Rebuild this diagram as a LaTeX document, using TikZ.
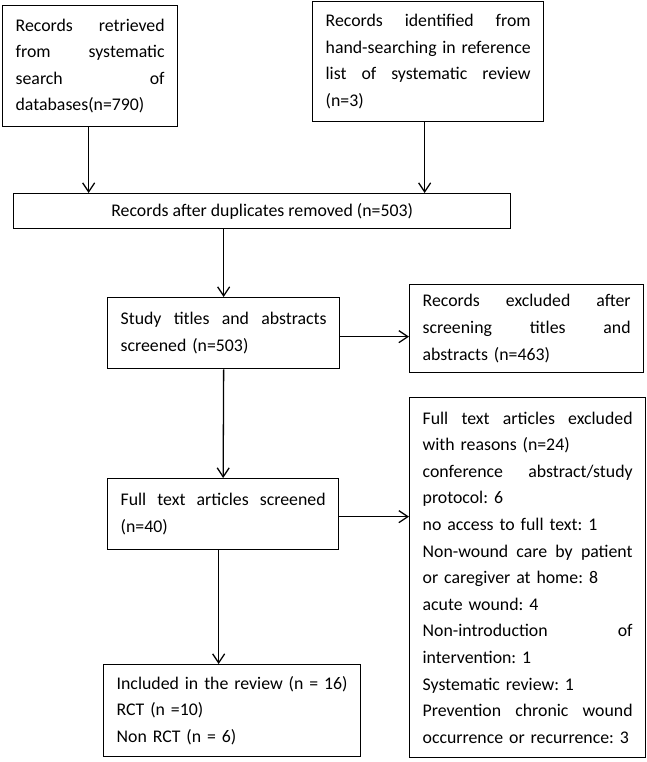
\documentclass[tikz,border=0pt]{standalone}
\usepackage{fontspec}
\setmainfont{Carlito}
\usetikzlibrary{arrows.meta}
\newcommand{\boxfont}   {\fontsize{17.8pt}{26.6pt}\selectfont\frenchspacing}

\begin{document}
\begin{tikzpicture}[x=1pt,y=-1pt,line width=1.3pt,
    box/.style={draw,anchor=north west,inner xsep=13pt,inner ysep=0pt,
                align=left,font=\boxfont},
    >={Straight Barb[length=9pt,width=12pt]}]
     \useasboundingbox (0,0) rectangle (647,762);
     \node[box,text width=149pt,minimum height=121pt] (search) at (2,5)
       {Records\hfill retrieved\\ from\hfill systematic\\ search\hfill of\\ databases(n=790)};
     \node[box,text width=205pt,minimum height=120pt] (handsearch) at (312,1)
       {Records\hfill identified\hfill from\\ hand-searching\hfill in\hfill reference\\
        list\hfill of\hfill systematic\hfill review\\ (n=3)};
     \node[box,align=center,minimum width=497pt,minimum height=35pt] (dedup) at (13,193)
       {Records after duplicates removed (n=503)};
     \node[box,text width=206pt,minimum height=71pt] (screen) at (107,297)
       {Study\hfill titles\hfill and\hfill abstracts\\ screened (n=503)};
     \node[box,text width=208pt,minimum height=88pt] (excl) at (409,284)
       {Records\hfill excluded\hfill after\\ screening\hfill titles\hfill and\\ abstracts (n=463)};
     \node[box,text width=205pt,minimum height=71pt] (fulltext) at (107,478)
       {Full\hfill text\hfill articles\hfill screened\\ (n=40)};
     \node[box,text width=210pt,minimum height=360pt] (fullexcl) at (409,397)
       {Full\hfill text\hfill articles\hfill excluded\\
        with reasons (n=24)\\
        conference\hfill abstract/study\\
        protocol: 6\\
        no access to full text: 1\\
        Non-wound\hfill care\hfill by\hfill patient\\
        or caregiver at home: 8\\
        acute wound: 4\\
        Non-introduction\hfill of\\
        intervention: 1\\
        Systematic review: 1\\
        Prevention\hfill chronic\hfill wound\\
        occurrence or recurrence: 3};
     \node[box,text width=231pt,minimum height=92pt] (incl) at (103,664)
       {Included in the review (n = 16)\\ RCT (n =10)\\ Non RCT (n = 6)};
     \draw[->] ([xshift=-1.5pt]search.south) -- ([xshift=-1.5pt]search.south |- dedup.north);
     \draw[->] ([xshift=-3.5pt]handsearch.south) -- ([xshift=-3.5pt]handsearch.south |- dedup.north);
     \draw[->] (dedup.south -| screen.north) -- (screen.north);
     \draw[->] ([yshift=-3.5pt]screen.east) -- ([yshift=-3.5pt]screen.east -| excl.west);
     \draw[->] (screen.south) -- (fulltext.north);
     \draw[->] ([yshift=-2.5pt]fulltext.east) -- ([yshift=-2.5pt]fulltext.east -| fullexcl.west);
     \draw[->] ([xshift=-4.5pt]fulltext.south) -- ([xshift=-4.5pt]fulltext.south |- incl.north);
\end{tikzpicture}
\end{document}
